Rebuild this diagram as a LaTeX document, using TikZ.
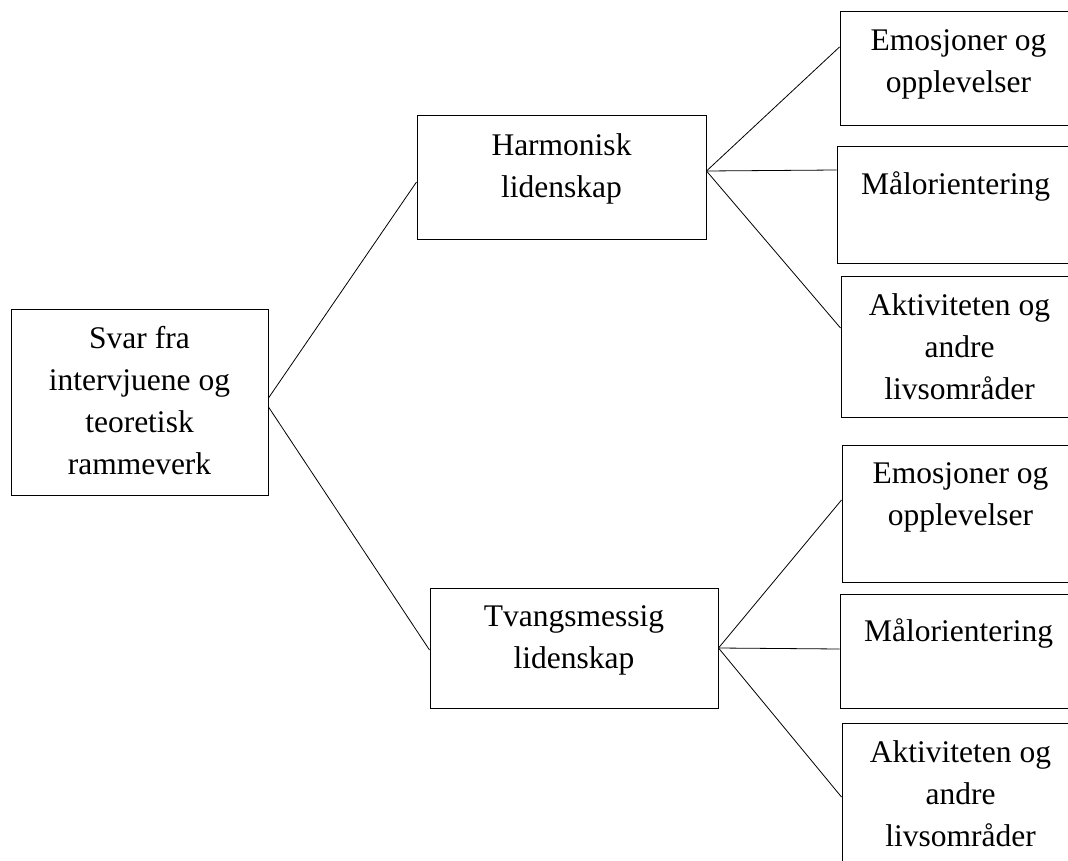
\documentclass[tikz,border=0pt]{standalone}
\usepackage{fontspec}
\setmainfont{Liberation Serif}
\newcommand{\boxfont}{\fontsize{31.5}{42}\selectfont}

\begin{document}
\begin{tikzpicture}[x=1pt, y=-1pt,
    box/.style={draw, line width=1pt, inner sep=0pt, fill=white},
    boxtxt/.style={anchor=north, align=center, inner sep=0pt, yshift=-18pt,
      font=\boxfont, execute at begin node=\strut},
    link/.style={line width=0.8pt}]
  % page frame
  \useasboundingbox (0,0) rectangle (1068,861);
  \clip (0,0) rectangle (1068,861);

  % root
  \node[box, minimum width=257, minimum height=186,
    label={[boxtxt]north:{Svar fra\\intervjuene og\\teoretisk\\rammeverk}}] (svar) at (139.5,402) {};

  % the two kinds of passion
  \node[box, minimum width=289, minimum height=123,
    label={[boxtxt]north:{Harmonisk\\lidenskap}}] (harm) at (561.5,177.5) {};
  \node[box, minimum width=288, minimum height=120,
    label={[boxtxt]north:{Tvangsmessig\\lidenskap}}] (tvang) at (574,648) {};

  % themes, harmonious
  \node[box, minimum width=237, minimum height=114,
    label={[boxtxt]north:{Emosjoner og\\opplevelser}}] (emoH) at (958.5,69) {};
  \node[box, minimum width=237, minimum height=116,
    label={[boxtxt]north:{Målorientering}}] (malH) at (955.5,205) {};
  \node[box, minimum width=237, minimum height=141,
    label={[boxtxt]north:{Aktiviteten og\\andre\\livsområder}}] (aktH) at (959.5,346.5) {};

  % themes, obsessive
  \node[box, minimum width=237, minimum height=137,
    label={[boxtxt]north:{Emosjoner og\\opplevelser}}] (emoT) at (960.5,513.5) {};
  \node[box, minimum width=237, minimum height=114,
    label={[boxtxt]north:{Målorientering}}] (malT) at (958.5,651) {};
  \node[box, minimum width=237, minimum height=147,
    label={[boxtxt]north:{Aktiviteten og\\andre\\livsområder}}] (aktT) at (960.5,796.5) {};

  % connectors
  \draw[link] ([yshift=4pt]svar.east) -- ([yshift=-4.5pt]harm.west);
  \draw[link] ([yshift=-5pt]svar.east) -- ([yshift=-2pt]tvang.west);

  \coordinate (hubH) at ([yshift=6.5pt]harm.east);
  \draw[link] (hubH) -- ([yshift=22pt]emoH.west);
  \draw[link] (hubH) -- ([yshift=35pt]malH.west);
  \draw[link] (hubH) -- ([yshift=18.5pt]aktH.west);

  \coordinate (hubT) at (tvang.east);
  \draw[link] (hubT) -- ([yshift=13.5pt]emoT.west);
  \draw[link] (hubT) -- ([yshift=2pt]malT.west);
  \draw[link] (hubT) -- ([yshift=-0.5pt]aktT.west);
\end{tikzpicture}
\end{document}
